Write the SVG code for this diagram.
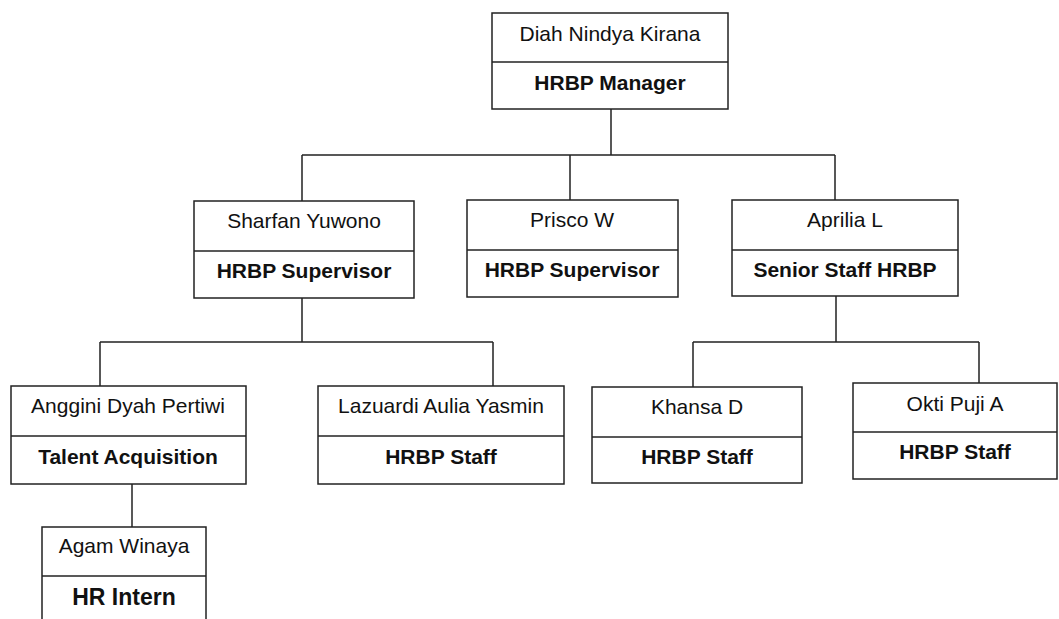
<svg xmlns="http://www.w3.org/2000/svg" width="1059" height="619" viewBox="0 0 1059 619">
<style>
.box{fill:#fff;stroke:#222;stroke-width:1.5}
.div{stroke:#222;stroke-width:1.5}
.nm{font-family:"Liberation Sans",Arial,sans-serif;font-size:21px;fill:#111;text-anchor:middle}
.tt{font-family:"Liberation Sans",Arial,sans-serif;font-size:21px;font-weight:bold;fill:#111;text-anchor:middle}
.con{fill:none;stroke:#222;stroke-width:1.5}
</style>
<rect width="1059" height="619" fill="#fff"/>
<g id="connectors">
<path class="con" d="M611 109V155M302 155H835M302 155V201M570 155V200M835 155V200"/>
<path class="con" d="M302 298V342M100 342H493M100 342V386M493 342V386"/>
<path class="con" d="M836 296V342M693 342H979M693 342V387M979 342V383"/>
<path class="con" d="M132 484V527"/>
</g>
<g id="n-diah">
<rect class="box" x="492" y="13" width="236" height="96"/>
<line class="div" x1="492" y1="62" x2="728" y2="62"/>
<text class="nm" x="610" y="41">Diah Nindya Kirana</text>
<text class="tt" x="610" y="90">HRBP Manager</text>
</g>
<g id="n-sharfan">
<rect class="box" x="194" y="201" width="220" height="97"/>
<line class="div" x1="194" y1="251" x2="414" y2="251"/>
<text class="nm" x="304" y="228">Sharfan Yuwono</text>
<text class="tt" x="304" y="278">HRBP Supervisor</text>
</g>
<g id="n-prisco">
<rect class="box" x="467" y="200" width="211" height="97"/>
<line class="div" x1="467" y1="250" x2="678" y2="250"/>
<text class="nm" x="572" y="227">Prisco W</text>
<text class="tt" x="572" y="277">HRBP Supervisor</text>
</g>
<g id="n-aprilia">
<rect class="box" x="732" y="200" width="226" height="96"/>
<line class="div" x1="732" y1="250" x2="958" y2="250"/>
<text class="nm" x="845" y="227">Aprilia L</text>
<text class="tt" x="845" y="277">Senior Staff HRBP</text>
</g>
<g id="n-anggini">
<rect class="box" x="11" y="386" width="235" height="98"/>
<line class="div" x1="11" y1="436" x2="246" y2="436"/>
<text class="nm" x="128" y="413">Anggini Dyah Pertiwi</text>
<text class="tt" x="128" y="464">Talent Acquisition</text>
</g>
<g id="n-lazuardi">
<rect class="box" x="318" y="386" width="246" height="98"/>
<line class="div" x1="318" y1="436" x2="564" y2="436"/>
<text class="nm" x="441" y="413">Lazuardi Aulia Yasmin</text>
<text class="tt" x="441" y="464">HRBP Staff</text>
</g>
<g id="n-khansa">
<rect class="box" x="592" y="387" width="210" height="96"/>
<line class="div" x1="592" y1="437" x2="802" y2="437"/>
<text class="nm" x="697" y="414">Khansa D</text>
<text class="tt" x="697" y="464">HRBP Staff</text>
</g>
<g id="n-okti">
<rect class="box" x="853" y="383" width="204" height="96"/>
<line class="div" x1="853" y1="432" x2="1057" y2="432"/>
<text class="nm" x="955" y="411">Okti Puji A</text>
<text class="tt" x="955" y="459">HRBP Staff</text>
</g>
<g id="n-agam">
<rect class="box" x="42" y="527" width="164" height="100"/>
<line class="div" x1="42" y1="576" x2="206" y2="576"/>
<text class="nm" x="124" y="553">Agam Winaya</text>
<text class="tt" x="124" y="605" style="font-size:23px">HR Intern</text>
</g>
</svg>
